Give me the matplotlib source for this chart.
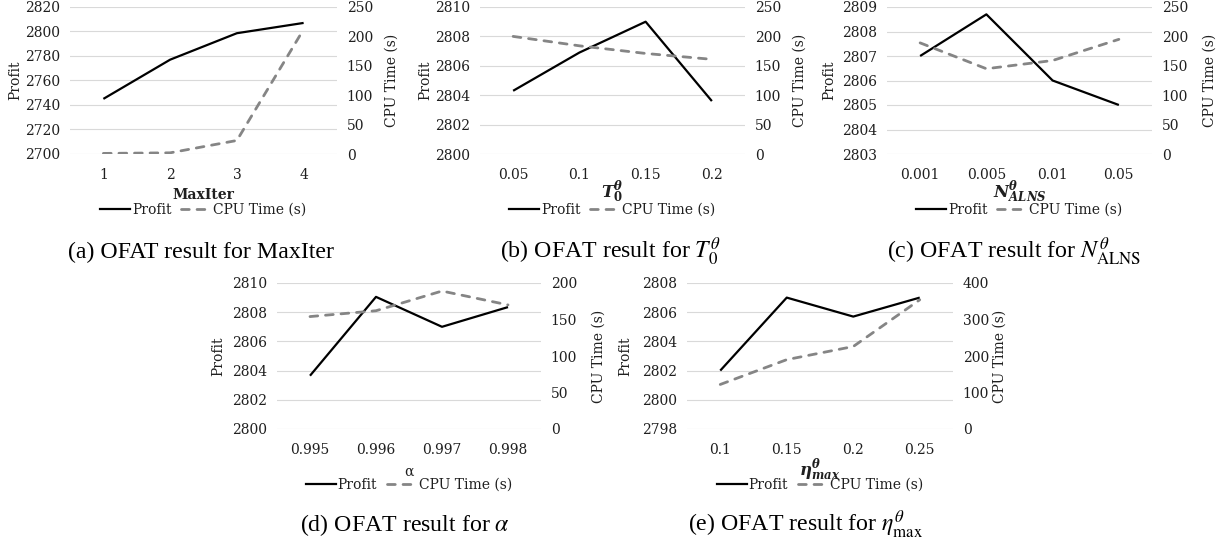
import matplotlib
matplotlib.use("Agg")
import matplotlib.pyplot as plt
from matplotlib.lines import Line2D

W, H = 1226, 549

# OFAT results
maxiter_levels = ["1", "2", "3", "4"]
maxiter_profit = [2745.0, 2777.0, 2798.6, 2807.0]
maxiter_cpu = [1, 2, 23, 212]

t0_levels = ["0.05", "0.1", "0.15", "0.2"]
t0_profit = [2804.3, 2806.9, 2809.0, 2803.6]
t0_cpu = [200, 184, 171, 161]

n_levels = ["0.001", "0.005", "0.01", "0.05"]
n_profit = [2807.0, 2808.7, 2806.0, 2805.0]
n_cpu = [189, 145, 159, 195]

alpha_levels = ["0.995", "0.996", "0.997", "0.998"]
alpha_profit = [2803.65, 2809.05, 2807.0, 2808.35]
alpha_cpu = [154, 162, 189, 170]

eta_levels = ["0.1", "0.15", "0.2", "0.25"]
eta_profit = [2802.0, 2807.0, 2805.7, 2807.0]
eta_cpu = [122, 190, 226, 354]

TICK_FONT = "DejaVu Serif"
CAP_FONT = "Liberation Serif"
TXT = "#1f1f1f"
CPU_GRAY = "#858585"
GRID = "#d9d9d9"
DASH = (2.8, 2.8)

plt.rcParams["font.family"] = TICK_FONT
plt.rcParams["font.size"] = 10

fig = plt.figure(figsize=(W / 100, H / 100), dpi=100)


def fx(x):
    return x / W


def fy(y):
    return 1 - y / H


def panel(box, levels, profit, cpu, pticks, cticks, xlabel, xweight, xsize, caption,
          prof_x, cpu_x, xlab_y, leg_y, cap_x, cap_y):
    left, top, right, bottom = box
    ax = fig.add_axes([fx(left), fy(bottom), (right - left) / W, (bottom - top) / H])
    x = list(range(len(levels)))
    ax.plot(x, profit, color="black", lw=1.6, solid_capstyle="butt", zorder=3)
    ax.set_xlim(-0.5, len(levels) - 0.5)
    ax.set_ylim(pticks[0], pticks[-1])
    ax.set_yticks(pticks)
    ax.set_xticks(x)
    ax.set_xticklabels(levels)
    ax.grid(axis="y", color=GRID, lw=0.8)
    ax.set_axisbelow(True)
    for s in ax.spines.values():
        s.set_visible(False)
    ax.tick_params(length=0, colors=TXT, labelsize=10)
    ax.tick_params(axis="y", pad=7)
    ax.tick_params(axis="x", pad=10)

    ax2 = ax.twinx()
    ax2.plot(x, cpu, color=CPU_GRAY, lw=2.0, dashes=DASH,
             dash_capstyle="round", zorder=2)
    ax2.set_ylim(cticks[0], cticks[-1])
    ax2.set_yticks(cticks)
    for s in ax2.spines.values():
        s.set_visible(False)
    ax2.tick_params(length=0, colors=TXT, labelsize=10, pad=7)

    # label anchors: right edge of "Profit", left edge of "CPU Time (s)"
    w = right - left
    ax.set_ylabel("Profit", color=TXT, fontsize=10)
    ax.yaxis.set_label_coords((prof_x - left) / w, 0.5)
    ax2.set_ylabel("CPU Time (s)", color=TXT, fontsize=10, rotation=90)
    ax2.yaxis.set_label_coords((cpu_x - left) / w, 0.5)

    cx = (left + right) / 2
    fig.text(fx(cx), fy(xlab_y), xlabel, ha="center", va="center", color=TXT,
             fontsize=xsize, fontweight=xweight, math_fontfamily="dejavuserif")

    handles = [Line2D([], [], color="black", lw=1.6),
               Line2D([], [], color=CPU_GRAY, lw=2.0, dashes=DASH,
                      dash_capstyle="round")]
    fig.legend(handles, ["Profit", "CPU Time (s)"], loc="center",
               bbox_to_anchor=(fx(cx), fy(leg_y)), ncol=2, frameon=False,
               fontsize=10, handlelength=2.15, handletextpad=0.15,
               columnspacing=0.7, labelcolor=TXT, borderpad=0)

    fig.text(fx(cap_x), fy(cap_y), caption, ha="left", va="baseline",
             fontsize=17.2, family=CAP_FONT, math_fontfamily="stix")


panel((70, 7, 337, 154), maxiter_levels, maxiter_profit, maxiter_cpu,
      list(range(2700, 2821, 20)), list(range(0, 251, 50)),
      "MaxIter", "bold", 10, "(a) OFAT result for MaxIter",
      22, 385, 195, 210, 68, 258)

panel((480, 7, 745, 154), t0_levels, t0_profit, t0_cpu,
      list(range(2800, 2811, 2)), list(range(0, 251, 50)),
      r"$\mathbfit{T}_{\mathbf{0}}^{\boldsymbol{\theta}}$", "bold", 12,
      r"(b) OFAT result for $T_0^{\theta}$",
      432, 793, 192, 210, 500, 258)

panel((887, 7, 1152, 154), n_levels, n_profit, n_cpu,
      list(range(2803, 2810, 1)), list(range(0, 251, 50)),
      r"$\mathbfit{N}_{\mathbfit{ALNS}}^{\boldsymbol{\theta}}$", "bold", 12,
      r"(c) OFAT result for $N^{\theta}_{\mathrm{ALNS}}$",
      836, 1203, 192, 210, 887, 258)

panel((277, 283, 541, 429), alpha_levels, alpha_profit, alpha_cpu,
      list(range(2800, 2811, 2)), list(range(0, 201, 50)),
      "α", "normal", 10, r"(d) OFAT result for $\alpha$",
      225, 592, 472, 485, 300, 531)

panel((687, 283, 953, 429), eta_levels, eta_profit, eta_cpu,
      list(range(2798, 2809, 2)), list(range(0, 401, 100)),
      r"$\boldsymbol{\eta}_{\mathbfit{max}}^{\boldsymbol{\theta}}$", "bold", 12,
      r"(e) OFAT result for $\eta^{\theta}_{\max}$",
      632, 993, 470, 485, 688, 531)

fig.savefig("out.png", dpi=100)
